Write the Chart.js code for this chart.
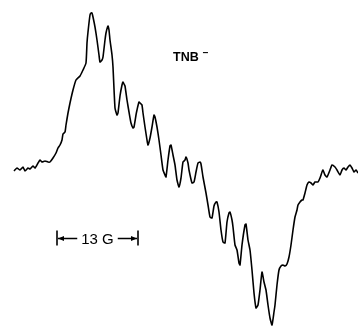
<!DOCTYPE html>
<html>
<head>
<meta charset="utf-8">
<script src="https://cdn.jsdelivr.net/npm/chart.js@4/dist/chart.umd.min.js"></script>
<style>
  html, body { margin: 0; padding: 0; background: #fff; }
  #wrap { width: 358px; height: 327px; }
</style>
</head>
<body>
<div id="wrap"><canvas id="c" width="358" height="327"></canvas></div>
<script>
// ESR derivative spectrum of the TNB radical anion (arbitrary field / signal units)
const field = [
  14, 17, 20, 23, 25, 28, 30, 33, 35, 38, 40, 42, 45, 48, 50, 53, 56, 58, 60, 62,
  63, 65, 66, 68, 70, 73, 76, 80, 83, 86, 87, 88, 90, 91, 92, 93, 95, 97, 99, 100,
  102, 103, 105, 106, 108, 109, 110, 112, 113, 115, 117, 118, 120, 122, 123, 124, 125, 127, 129, 131,
  133, 134, 136, 137, 139, 141, 142, 143, 145, 147, 148, 150, 152, 154, 155, 157, 159, 161, 163, 165,
  166, 168, 170, 171, 173, 175, 177, 179, 181, 183, 185, 186, 188, 189, 192, 194, 196, 198, 200, 201,
  203, 206, 208, 210, 212, 214, 216, 217, 219, 221, 223, 225, 227, 229, 230, 232, 233, 235, 237, 239,
  240, 242, 245, 246, 248, 250, 252, 254, 256, 258, 260, 262, 264, 266, 268, 270, 272, 274, 275, 277,
  279, 281, 283, 285, 287, 289, 291, 293, 295, 297, 298, 300, 302, 303, 305, 307, 309, 311, 313, 315,
  318, 320, 322, 323, 325, 327, 330, 332, 335, 337, 340, 342, 344, 346, 348, 350, 352, 354, 356, 358
];
const signal = [
  -1, 2, 0, 3, -1, 2, 1, 4, 2, 7, 10, 8, 9, 8, 8, 12, 17, 22, 25, 30,
  36, 38, 45, 57, 67, 80, 90, 94, 100, 107, 127, 138, 155, 157, 157, 153, 143, 130, 115, 108,
  110, 113, 130, 137, 144, 140, 130, 115, 103, 62, 55, 57, 74, 85, 88, 86, 84, 70, 58, 47,
  42, 43, 55, 60, 68, 66, 65, 57, 43, 30, 25, 32, 43, 55, 53, 43, 30, 15, 0, -5,
  -7, 10, 24, 25, 15, 5, -10, -17, -8, 8, 10, 13, 7, 0, -13, -12, -2, 7, 8, 6,
  -7, -23, -35, -47, -48, -36, -32, -32, -42, -60, -72, -73, -52, -43, -42, -50, -57, -75, -80, -93,
  -95, -75, -55, -54, -70, -80, -100, -123, -138, -135, -120, -102, -112, -120, -135, -148, -155, -142, -135, -115,
  -100, -96, -95, -96, -94, -87, -75, -60, -47, -40, -35, -32, -30, -30, -23, -15, -12, -13, -15, -12,
  -12, -8, -2, 0, -5, -7, 0, 5, 3, 0, -5, 0, 2, 0, 3, 5, 2, -2, 0, -3
];

// Annotation anchors in data units
const speciesLabel = 'TNB';
const chargeLabel = '\u2212';
const labelAnchor = { x: 173, y: 109 };
const scaleBarText = '13 G';
const scaleBarField = [57, 138];
const scaleBarLevel = -68;

const annotate = {
  id: 'annotate',
  afterDraw(chart) {
    const { ctx, scales } = chart;
    const xs = scales.x, ys = scales.y;
    ctx.save();
    ctx.fillStyle = '#000';
    ctx.strokeStyle = '#000';

    // species label with superscript charge
    const lx = xs.getPixelForValue(labelAnchor.x);
    const ly = ys.getPixelForValue(labelAnchor.y);
    ctx.font = 'bold 12.5px "Liberation Sans", Arial, sans-serif';
    ctx.textBaseline = 'alphabetic';
    ctx.textAlign = 'left';
    ctx.fillText(speciesLabel, lx, ly);
    const w = ctx.measureText(speciesLabel).width;
    ctx.font = 'bold 10px "Liberation Sans", Arial, sans-serif';
    ctx.fillText(chargeLabel, lx + w + 4, ly - 5);

    // field scale bar
    const x0 = xs.getPixelForValue(scaleBarField[0]);
    const x1 = xs.getPixelForValue(scaleBarField[1]);
    const yb = Math.round(ys.getPixelForValue(scaleBarLevel)) + 0.5;
    ctx.lineWidth = 1.6;
    ctx.beginPath();
    ctx.moveTo(x0, yb - 8); ctx.lineTo(x0, yb + 7);
    ctx.moveTo(x1, yb - 8); ctx.lineTo(x1, yb + 7);
    ctx.stroke();

    ctx.font = '15px "Liberation Sans Narrow", "Liberation Sans", Arial, sans-serif';
    const tw = ctx.measureText(scaleBarText).width;
    const xm = (x0 + x1) / 2;
    ctx.textAlign = 'center';
    ctx.fillText(scaleBarText, xm, yb + 5);

    const gap = 4;
    ctx.lineWidth = 1.4;
    ctx.beginPath();
    ctx.moveTo(x0 + 1, yb); ctx.lineTo(xm - tw / 2 - gap, yb);
    ctx.moveTo(xm + tw / 2 + gap, yb); ctx.lineTo(x1 - 1, yb);
    ctx.stroke();

    // arrowheads pointing outward to the end ticks
    ctx.beginPath();
    ctx.moveTo(x0 + 1, yb); ctx.lineTo(x0 + 7, yb - 2.5); ctx.lineTo(x0 + 7, yb + 2.5); ctx.closePath();
    ctx.moveTo(x1 - 1, yb); ctx.lineTo(x1 - 7, yb - 2.5); ctx.lineTo(x1 - 7, yb + 2.5); ctx.closePath();
    ctx.fill();
    ctx.restore();
  }
};

new Chart(document.getElementById('c'), {
  type: 'line',
  data: {
    datasets: [{
      data: field.map((f, i) => ({ x: f, y: signal[i] })),
      borderColor: '#000',
      borderWidth: 1.6,
      pointRadius: 0,
      tension: 0.15,
      fill: false
    }]
  },
  options: {
    responsive: false,
    animation: false,
    events: [],
    layout: { padding: 0 },
    plugins: { legend: { display: false }, tooltip: { enabled: false } },
    scales: {
      x: { type: 'linear', min: 0, max: 358, display: false },
      y: { type: 'linear', min: -157, max: 170, display: false }
    }
  },
  plugins: [annotate]
});
</script>
</body>
</html>
